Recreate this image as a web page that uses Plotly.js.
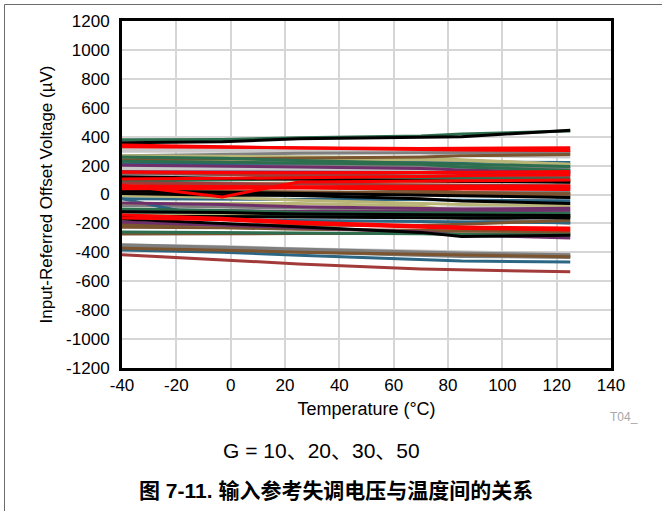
<!DOCTYPE html>
<html>
<head>
<meta charset="utf-8">
<script src="https://cdn.plot.ly/plotly-3.0.1.min.js"></script>
<style>
  html, body { margin: 0; padding: 0; background: #fff; }
  #chart { width: 662px; height: 511px; }
</style>
</head>
<body>
<div id="chart"></div>
<script>
// Temperatures (°C) at which each unit was measured
const temps = [-40, -3, 25, 70, 85, 125];

// Offset voltage (µV) per unit, grouped by line colour
const lightGraySeries = [
  [318, 310, 300, 290, 270, 259],
  [185, 180, 170, 160, 150, 145],
  [-155, -140, -120, -100, -90, -80],
  [170, 175, 175, 178, 180, 185],
  [300, 300, 300, 298, 300, 300],
  [-350, -360, -375, -390, -400, -410]
];
const graySeries = [
  [268, 275, 285, 288, 290, 291],
  [222, 215, 205, 195, 190, 180],
  [143, 140, 135, 120, 110, 85],
  [-76, -85, -95, -105, -110, -123],
  [-118, -130, -140, -150, -165, -199],
  [15, 15, 16, 18, 18, 16],
  [-347, -365, -380, -400, -405, -416],
  [-355, -375, -390, -410, -420, -425],
  [-365, -385, -400, -420, -428, -435]
];
const tealSeries = [
  [-30, -175, -180, -185, -190, -195],
  [-30, -30, -30, -35, -40, -44],
  [210, 215, 220, 225, 225, 222],
  [-137, -137, -137, -140, -140, -140],
  [-384, -400, -420, -450, -460, -467]
];
const khakiSeries = [
  [268, 265, 260, 255, 240, 208],
  [-7, -20, -40, -60, -70, -76],
  [240, 238, 240, 240, 235, 210],
  [-60, -62, -62, -80, -120, -159],
  [70, 75, 80, 85, 90, 95],
  [-140, -145, -148, -148, -150, -148]
];
const brownSeries = [
  [240, 245, 250, 260, 268, 277],
  [80, 70, 50, 30, 15, 2],
  [-208, -210, -215, -215, -205, -180],
  [-227, -230, -240, -250, -255, -259],
  [-273, -270, -270, -270, -272, -270],
  [157, 140, 120, 110, 105, 99],
  [30, 25, 20, 10, 0, -17],
  [7, 10, 10, 5, 5, 5],
  [-372, -385, -400, -415, -420, -430]
];
const purpleSeries = [
  [203, 198, 190, 180, 170, 155],
  [-58, -70, -85, -95, -100, -95],
  [-104, -110, -118, -118, -112, -109],
  [-190, -210, -230, -260, -280, -301],
  [157, 155, 157, 150, 150, 150]
];
const greenSeries = [
  [379, 380, 392, 405, 418, 440],
  [259, 250, 235, 215, 210, 194],
  [94, 100, 110, 115, 115, 113],
  [-259, -262, -266, -272, -276, -280],
  [230, 225, 220, 210, 190, 166],
  [-100, -110, -125, -130, -132, -132],
  [-155, -152, -150, -150, -152, -155]
];
const maroonSeries = [
  [150, 140, 135, 130, 130, 130],
  [80, 75, 70, 65, 65, 60],
  [-416, -455, -480, -515, -520, -535]
];
const blackSeries = [
  [358, 365, 385, 400, 400, 444],
  [122, 115, 105, 95, 90, 85],
  [25, 15, 8, -5, -10, -20],
  [7, -5, -7, -30, -45, -62],
  [-169, -200, -225, -262, -290, -282],
  [-120, -125, -135, -140, -145, -146],
  [-150, -155, -158, -160, -162, -162]
];
const redSeries = [
  [342, 330, 322, 312, 308, 305],
  [330, 325, 322, 318, 320, 323],
  [64, -17, 87, 92, 95, 100],
  [58, 55, 55, 50, 48, 45],
  [48, 48, 52, 55, 56, 58],
  [40, 42, 45, 40, 38, 35],
  [108, 110, 115, 125, 132, 139],
  [155, 152, 150, 152, 155, 159],
  [-141, -165, -190, -215, -225, -232],
  [-162, -175, -200, -225, -235, -245]
];

// Axis ticks
const xTicks = [-40, -20, 0, 20, 40, 60, 80, 100, 120, 140];
const yTicks = [-1200, -1000, -800, -600, -400, -200, 0, 200, 400, 600, 800, 1000, 1200];

const groups = [
  { data: lightGraySeries, color: '#c8c8c8' },
  { data: graySeries, color: '#7f7f7f' },
  { data: tealSeries, color: '#2b6784' },
  { data: khakiSeries, color: '#b9b577' },
  { data: brownSeries, color: '#7b5430' },
  { data: purpleSeries, color: '#6e2f6a' },
  { data: greenSeries, color: '#2d6e4e' },
  { data: maroonSeries, color: '#a33a3a' },
  { data: blackSeries, color: '#000000' },
  { data: redSeries, color: '#ff0000' }
];

const traces = [];
groups.forEach(g => {
  g.data.forEach(vals => {
    traces.push({
      x: temps, y: vals, type: 'scatter', mode: 'lines',
      line: { color: g.color, width: 3 },
      hoverinfo: 'skip', showlegend: false
    });
  });
});

const M = { l: 122, r: 51, t: 21, b: 143 };
const W = 662, H = 511;
const pw = W - M.l - M.r, ph = H - M.t - M.b;
const px = v => (v - M.l) / pw;
const py = v => (H - M.b - v) / ph;

const font = 'Liberation Sans, Arial, sans-serif';

const layout = {
  width: W, height: H,
  margin: M,
  paper_bgcolor: '#ffffff',
  plot_bgcolor: '#ffffff',
  showlegend: false,
  hovermode: false,
  font: { family: font, size: 17, color: '#000' },
  xaxis: {
    range: [-40, 140], tickvals: xTicks, ticktext: xTicks.map(String),
    showgrid: true, gridcolor: '#d6d6d6', gridwidth: 2,
    zeroline: false, showline: true, linecolor: '#000', linewidth: 3, mirror: true,
    ticks: '', tickfont: { family: font, size: 17, color: '#000' },
    title: { text: 'Temperature (°C)', font: { family: font, size: 18, color: '#000' }, standoff: 8 }
  },
  yaxis: {
    range: [-1200, 1200], tickvals: yTicks, ticktext: yTicks.map(String),
    showgrid: true, gridcolor: '#d6d6d6', gridwidth: 2,
    zeroline: false, showline: true, linecolor: '#000', linewidth: 3, mirror: true,
    ticks: '', ticklabelstandoff: 6, tickfont: { family: font, size: 17, color: '#000' },
    title: { text: 'Input-Referred Offset Voltage (µV)', font: { family: font, size: 17, color: '#000' }, standoff: 10 }
  },
  shapes: [
    { type: 'line', xref: 'paper', yref: 'paper', x0: px(4.5), x1: px(4.5), y0: py(4.5), y1: py(520), line: { color: '#6b6b6b', width: 1 } },
    { type: 'line', xref: 'paper', yref: 'paper', x0: px(4.5), x1: px(670), y0: py(4.5), y1: py(4.5), line: { color: '#6b6b6b', width: 1 } }
  ],
  annotations: [
    { text: 'T04_', xref: 'paper', yref: 'paper', x: px(624), y: py(417), xanchor: 'center', yanchor: 'middle', showarrow: false,
      font: { family: font, size: 12, color: '#a8a8a8' } },
    { text: 'G = 10、20、30、50', xref: 'paper', yref: 'paper', x: px(321), y: py(450), xanchor: 'center', yanchor: 'middle', showarrow: false,
      font: { family: 'Liberation Sans, Noto Sans CJK SC, sans-serif', size: 21, color: '#000' } },
    { text: '<b>图 7-11. 输入参考失调电压与温度间的关系</b>', xref: 'paper', yref: 'paper', x: px(336), y: py(490), xanchor: 'center', yanchor: 'middle', showarrow: false,
      font: { family: 'Liberation Sans, Noto Sans CJK SC, sans-serif', size: 21, color: '#000' } }
  ]
};

Plotly.newPlot('chart', traces, layout, { displayModeBar: false, staticPlot: true });
</script>
</body>
</html>
